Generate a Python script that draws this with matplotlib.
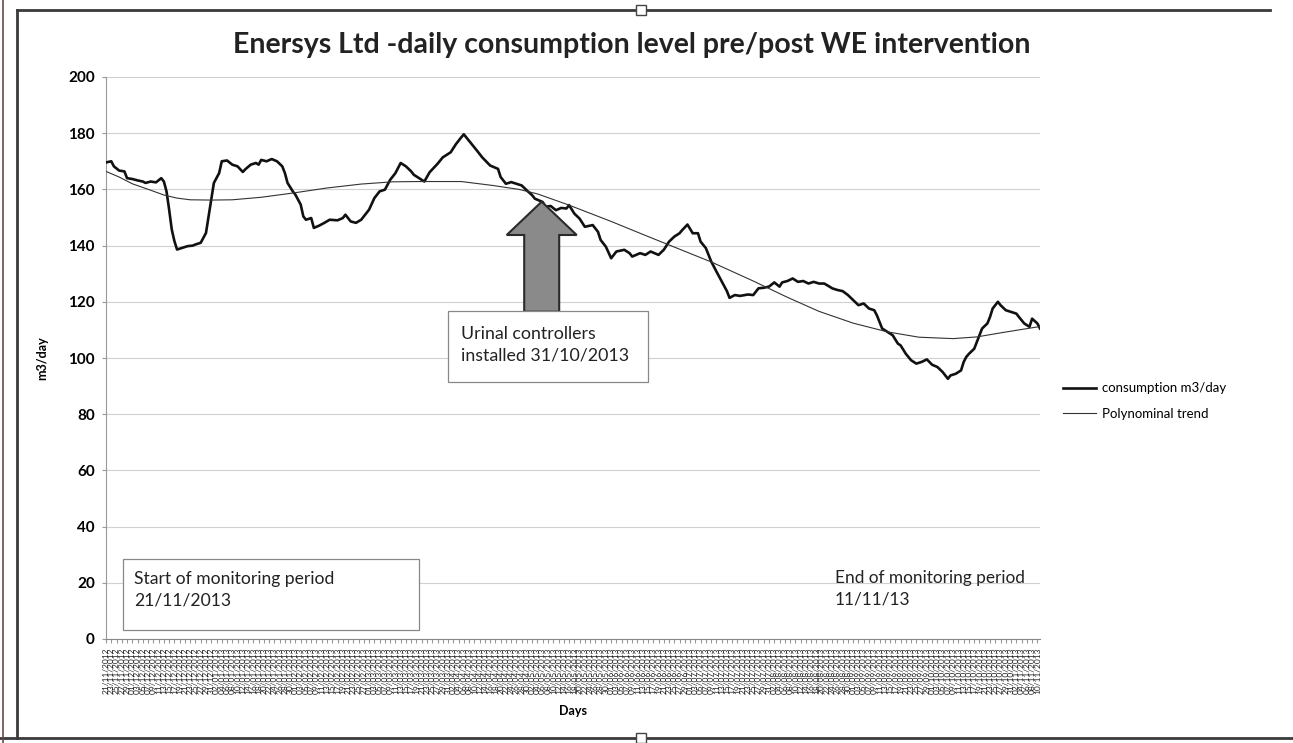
import numpy as np
import pandas as pd
import matplotlib
matplotlib.use('Agg')
import matplotlib.pyplot as plt
from matplotlib.lines import Line2D
from matplotlib.patches import Polygon, Rectangle

# readings taken off the chart: day index (0 = 21/11/2012) and m3/day
DAY = [0, 2, 3, 5, 7, 8, 10, 12, 14, 15, 17, 19, 21, 22, 23, 24, 25, 26, 27, 29,
       31, 33, 34, 36, 38, 39, 40, 41, 43, 44, 46, 48, 50, 52, 53, 55, 57, 58, 59, 61,
       63, 65, 67, 68, 69, 71, 72, 74, 75, 76, 78, 79, 81, 83, 85, 88, 90, 91, 93, 95,
       97, 98, 100, 102, 104, 106, 108, 110, 112, 114, 116, 117, 121, 123, 126, 128, 131, 133, 135, 136,
       138, 141, 143, 146, 149, 150, 152, 154, 156, 158, 160, 162, 163, 166, 167, 169, 171, 173, 175, 176,
       178, 180, 182, 185, 187, 188, 190, 192, 194, 197, 199, 200, 203, 205, 207, 210, 212, 214, 216, 218,
       219, 221, 223, 225, 226, 228, 230, 232, 234, 236, 237, 239, 241, 244, 246, 248, 250, 252, 254, 256,
       257, 259, 261, 263, 265, 267, 269, 271, 273, 275, 276, 278, 280, 282, 284, 286, 288, 290, 292, 293,
       294, 295, 297, 299, 301, 302, 304, 306, 308, 310, 312, 314, 316, 318, 320, 321, 323, 325, 326, 327,
       328, 330, 331, 332, 333, 335, 336, 337, 339, 340, 342, 344, 346, 347, 349, 351, 352, 354, 355]
M3 = [169.6, 170.0, 168.2, 166.7, 166.4, 164.0, 163.7, 163.2, 162.8, 162.3, 162.8, 162.5, 164.0, 162.8, 159.3, 152.8, 145.7, 141.6, 138.6, 139.2,
      139.8, 140.0, 140.4, 141.0, 144.5, 150.4, 156.3, 162.3, 165.8, 170.0, 170.3, 168.8, 168.2, 166.2, 167.2, 168.8, 169.4, 168.8, 170.5, 170.0,
      170.8, 170.0, 168.2, 165.8, 162.3, 159.3, 158.1, 154.6, 150.4, 149.2, 149.8, 146.3, 147.1, 148.1, 149.2, 149.0, 149.8, 151.0, 148.6, 148.1,
      149.2, 150.4, 152.8, 156.9, 159.3, 159.9, 163.4, 165.8, 169.4, 168.2, 166.4, 165.2, 162.8, 166.1, 169.1, 171.4, 173.2, 176.1, 178.5, 179.6,
      177.3, 173.8, 171.4, 168.5, 167.3, 164.4, 162.0, 162.6, 162.0, 161.4, 159.6, 157.9, 156.7, 155.5, 153.8, 154.1, 152.6, 153.4, 153.2, 154.4,
      151.4, 149.6, 146.7, 147.3, 144.9, 142.0, 139.6, 135.5, 137.9, 138.5, 137.3, 136.1, 137.3, 136.7, 137.9, 136.7, 138.5, 141.4, 143.2, 144.4,
      145.5, 147.5, 144.4, 144.4, 141.4, 139.1, 134.4, 130.8, 127.3, 123.8, 121.4, 122.4, 122.1, 122.6, 122.4, 124.8, 125.0, 125.4, 126.9, 125.4,
      126.9, 127.4, 128.3, 127.1, 127.4, 126.5, 127.1, 126.5, 126.5, 125.4, 124.8, 124.2, 123.8, 122.4, 120.6, 118.8, 119.4, 117.6, 117.0, 115.2,
      112.9, 110.5, 109.3, 108.1, 105.1, 104.5, 101.5, 99.2, 98.0, 98.6, 99.5, 97.6, 96.8, 95.0, 92.6, 93.8, 94.4, 95.6, 98.6, 100.4,
      101.5, 103.3, 105.7, 108.1, 110.5, 112.3, 114.6, 117.6, 120.0, 118.8, 117.0, 116.4, 115.8, 114.6, 112.3, 111.1, 114.0, 112.3, 110.5]

# polynomial trendline as drawn on the chart
TREND_DAY = [0, 5, 10, 17, 22, 27, 32, 40, 48, 59, 71, 84, 97, 109, 119, 135, 147, 157,
             164, 176, 192, 204, 217, 230, 246, 259, 271, 284, 297, 309, 322, 331, 341, 355]
TREND_M3 = [166.4, 164.4, 162.0, 159.7, 158.0, 156.9, 156.3, 156.2, 156.3, 157.2, 158.7, 160.5,
            161.9, 162.7, 162.8, 162.8, 161.4, 160.0, 158.4, 154.4, 148.6, 144.0, 139.1, 134.2,
            127.4, 121.6, 116.6, 112.4, 109.3, 107.4, 106.9, 107.5, 109.1, 111.2]

START = '2012-11-21'
N_DAYS = 356
LABEL_EVERY = 2
Y_TICKS = [0, 20, 40, 60, 80, 100, 120, 140, 160, 180, 200]

TITLE = 'Enersys Ltd -daily consumption level pre/post WE intervention'
NOTE_INSTALL = 'Urinal controllers\ninstalled 31/10/2013'
NOTE_START = 'Start of monitoring period\n21/11/2013'
NOTE_END = 'End of monitoring period\n11/11/13'

W, H = 1293, 743

plt.rcParams['font.family'] = ['Lato', 'DejaVu Sans']

dates = pd.date_range(START, periods=N_DAYS, freq='D')
day_labels = list(dates.strftime('%d/%m/%Y'))

fig = plt.figure(figsize=(W / 100, H / 100), dpi=100)
fig.patch.set_facecolor('white')


def fx(px):
    return px / W


def fy(py):
    return 1 - py / H


ax = fig.add_axes([fx(106), fy(639), fx(1040) - fx(106), fy(77) - fy(639)])

ax.plot(DAY, M3, color='#111111', lw=1.9, solid_joinstyle='round',
        label='consumption m3/day', zorder=3)
ax.plot(TREND_DAY, TREND_M3, color='#333333', lw=0.8, solid_joinstyle='round',
        label='Polynominal trend', zorder=4)

ax.set_xlim(0, N_DAYS - 1)
ax.set_ylim(0, 200)
ax.set_yticks(Y_TICKS)
ax.yaxis.grid(True, color='#d0d0d0', lw=0.8)
ax.set_axisbelow(True)
ax.tick_params(axis='y', labelsize=11, length=3, color='#999999', pad=5)
for lab in ax.get_yticklabels():
    lab.set_fontweight('bold')

# dense band of rotated date labels, as on the original category axis
ax.set_xticks(np.arange(0, N_DAYS, LABEL_EVERY))
ax.set_xticklabels(day_labels[::LABEL_EVERY], rotation=90, fontsize=6.0,
                   color='#222222')
ax.tick_params(axis='x', length=3, color='#999999', pad=3)

for s in ['top', 'right']:
    ax.spines[s].set_visible(False)
ax.spines['left'].set_color('#999999')
ax.spines['bottom'].set_color('#888888')

ax.set_ylabel('m3/day', fontsize=9, fontweight='bold', labelpad=14)
ax.set_xlabel('Days', fontsize=9, fontweight='bold', labelpad=8)

fig.text(fx(632), fy(45), TITLE, ha='center', va='center',
         fontsize=20.5, fontweight='bold', color='#222222')

# arrow marking the intervention
tip_x, tip_y = (541.7 - 106) / 934, (639 - 201.7) / 562
head_y, shaft_y = (639 - 235) / 562, (639 - 311.7) / 562
hw, sw = 35 / 934, 17.5 / 934
arrow = Polygon([(tip_x, tip_y), (tip_x + hw, head_y), (tip_x + sw, head_y),
                 (tip_x + sw, shaft_y), (tip_x - sw, shaft_y), (tip_x - sw, head_y),
                 (tip_x - hw, head_y)], closed=True, transform=ax.transAxes,
                facecolor='#8a8a8a', edgecolor='#2a2a2a', lw=1.5, zorder=5)
ax.add_patch(arrow)

# note boxes
for (x0, y0, x1, y1) in [(448, 311, 648, 382), (123, 559, 419, 630)]:
    fig.add_artist(Rectangle((fx(x0), fy(y1)), fx(x1) - fx(x0), fy(y0) - fy(y1),
                             transform=fig.transFigure, facecolor='white',
                             edgecolor='#888888', lw=0.9, zorder=6))
fig.text(fx(461), fy(345), NOTE_INSTALL, ha='left', va='center', fontsize=12.8,
         color='#222222', linespacing=1.45, zorder=7)
fig.text(fx(134), fy(590), NOTE_START, ha='left', va='center', fontsize=12.6,
         color='#222222', linespacing=1.45, zorder=7)
fig.text(fx(835), fy(589), NOTE_END, ha='left', va='center', fontsize=12.4,
         color='#222222', linespacing=1.4, zorder=7)

fig.legend(loc='center left', bbox_to_anchor=(fx(1058), fy(401)), frameon=False,
           fontsize=9.5, handlelength=2.5, handletextpad=0.45, labelspacing=1.0,
           borderaxespad=0)

# chart-area frame
frame = dict(transform=fig.transFigure, color='#3a3a3a', lw=2)
fig.add_artist(Line2D([fx(17), fx(1270)], [fy(10), fy(10)], **frame))
fig.add_artist(Line2D([0, 1], [fy(738), fy(738)], **frame))
fig.add_artist(Line2D([fx(17), fx(17)], [fy(738), fy(10)], **frame))
fig.add_artist(Line2D([fx(3), fx(3)], [0, 1], transform=fig.transFigure,
                      color='#6a4a4a', lw=1.2))
for px, py in [(641, 10), (641, 738)]:
    fig.add_artist(Rectangle((fx(px - 5), fy(py + 5)), fx(10), 10 / H,
                             transform=fig.transFigure, facecolor='white',
                             edgecolor='#444444', lw=1, zorder=8))

fig.savefig('out.png', dpi=100)
